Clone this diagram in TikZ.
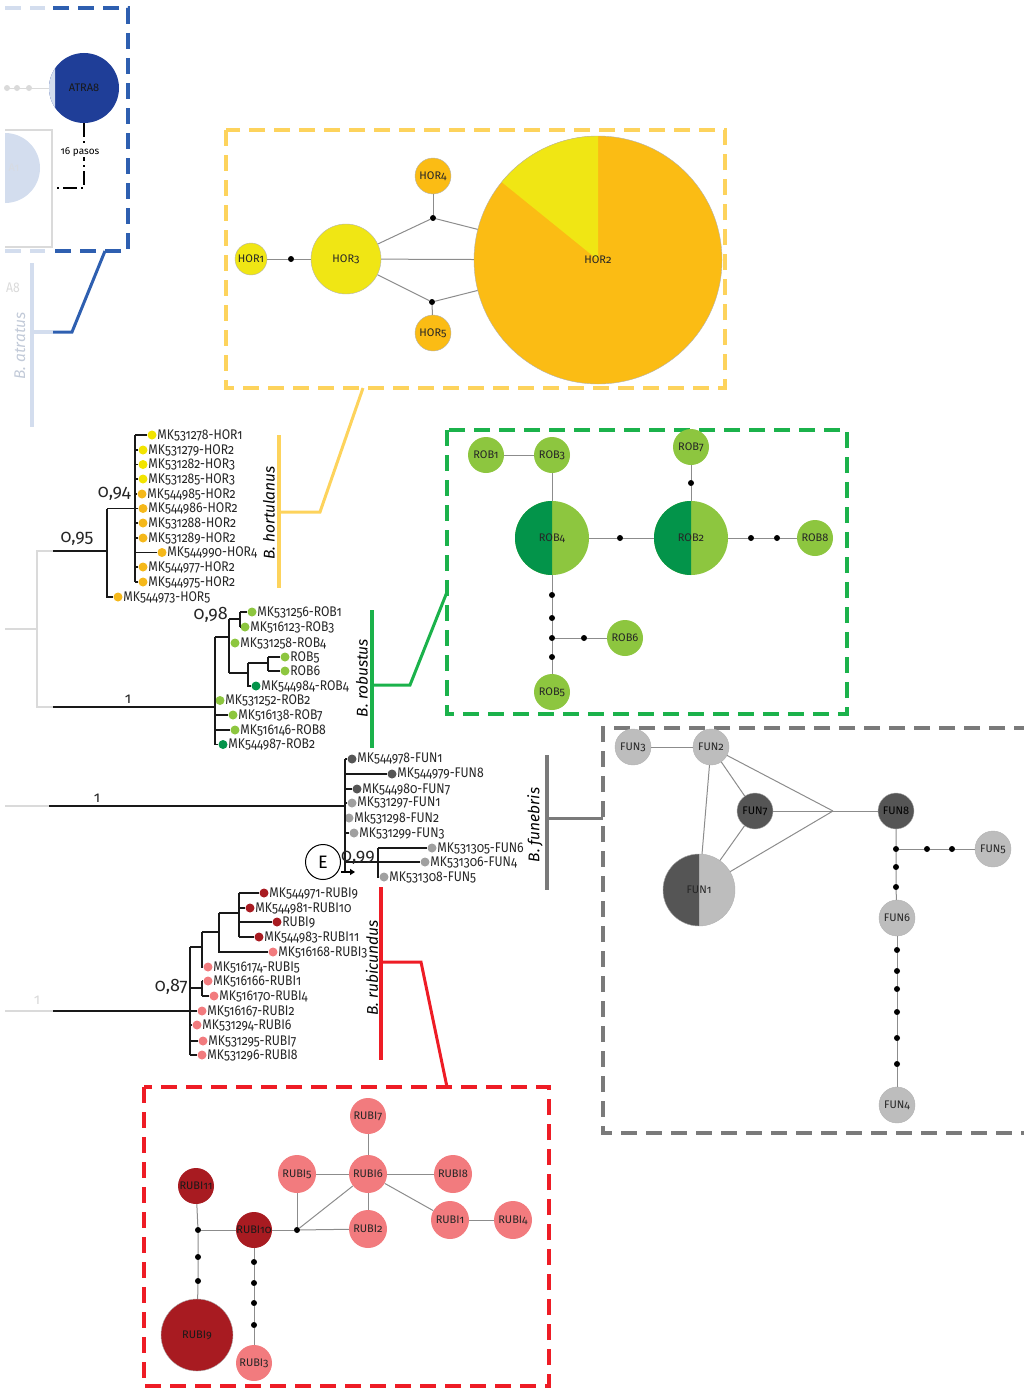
\documentclass[tikz,border=0pt]{standalone}
\usepackage{fontspec}
\setmainfont{Fira Sans}[Numbers=OldStyle]
\newfontfamily\tipfam{Fira Sans}[Numbers=OldStyle, FakeStretch=0.87]
\usetikzlibrary{arrows.meta}
\definecolor{hoYel}{HTML}{F0E614}
\definecolor{hoOra}{HTML}{FBBC14}
\definecolor{hoBox}{HTML}{FDD35C}
\definecolor{tYel}{HTML}{F2E400}
\definecolor{tOra}{HTML}{F5B81A}
\definecolor{gBox}{HTML}{1BB24B}
\definecolor{rLt}{HTML}{8DC63F}
\definecolor{rDk}{HTML}{03944A}
\definecolor{fBox}{HTML}{7A7A7A}
\definecolor{fDk}{HTML}{555555}
\definecolor{fLt}{HTML}{BDBDBD}
\definecolor{tfLt}{HTML}{A0A0A0}
\definecolor{rdBox}{HTML}{EE1C25}
\definecolor{ruDk}{HTML}{A81B21}
\definecolor{ruLt}{HTML}{F27B7E}
\definecolor{bBox}{HTML}{2E5FB0}
\definecolor{atr}{HTML}{1F3E98}
\definecolor{fadeB}{HTML}{D3DDEE}
\definecolor{fadeG}{HTML}{DADADA}
\definecolor{edgeC}{HTML}{8C8C8C}
\newcommand\fTip{\tipfam\fontsize{14}{14}\selectfont}
\newcommand\fSup{\fontsize{18}{18}\selectfont}
\newcommand\fHap{\fontsize{11}{11}\selectfont}
\newcommand\fHapS{\fontsize{10}{10}\selectfont}
\newcommand\fSpec{\fontsize{15.5}{15.5}\selectfont\itshape}
\newcommand\tipdot[5]{%
  \node[tdot, fill=#4] (#1) at (#2,#3) {};
  \node[tlab] (#1l) at ([xshift=-0.5pt]#1.east) {#5};}
\begin{document}
\begin{tikzpicture}[x=1pt,y=-1pt,
  tdot/.style={circle, inner sep=0pt, minimum size=9pt},
  tlab/.style={anchor=west, inner sep=1pt, font=\fTip, text=black!85},
  tbr/.style={line width=1.8pt, black!90},
  fline/.style={line width=1.8pt, fadeG},
  spn/.style={rotate=90, font=\fSpec},
  dbox/.style={dash pattern=on 16pt off 9pt, line width=3.5pt},
  hap/.style={circle, draw=gray!60, line width=0.4pt, inner sep=0pt, minimum size=#1, font=\fHap, text=black!85},
  nline/.style={draw=edgeC, line width=1pt},
  mdot/.style={circle, fill=black, inner sep=0pt, minimum size=6pt},
  supv/.style={font=\fSup, text=black!85, inner sep=0pt},
  cbar/.style={line width=3.5pt}
]
\useasboundingbox (0,0) rectangle (1024,1389);

% ---------------- top-left (B. atratus, faded) ----------------
\draw[dbox, fadeB] (5,8) -- (45,8);
\draw[dbox, fadeB] (5,251) -- (45,251);
\draw[dbox, bBox] (53,8) -- (128,8) -- (128,251) -- (53,251);
\draw[fadeG, line width=1.5pt] (5,130) -- (52,130) -- (52,247) -- (5,247);
\begin{scope}
  \clip (5,120) rectangle (60,220);
  \fill[fadeB] (5,168) circle[radius=35pt];
\end{scope}
\node[font=\fHap, text=fadeG!60!fadeB] (a1) at (14,168) {A1};
\draw[fadeG, line width=1pt] (5,88) -- (50,88);
\foreach \xx in {7,17,29} \fill[fadeG] (\xx,88) circle[radius=3pt];
\fill[atr] (84,88) circle[radius=35pt];
\begin{scope}
  \clip (40,40) rectangle (55,140);
  \fill[fadeB] (84,88) circle[radius=35pt];
\end{scope}
\node[hap=70pt, draw=none, font=\fHap, text=black!90] (atra8) at (84,88) {ATRA8};
\coordinate (pasoA) at (84,188);
\coordinate (pasoB) at (53,188);
\draw[line width=1.6pt, black, dash pattern=on 14pt off 4pt on 2pt off 4pt] (atra8) -- (pasoA) -- (pasoB);
\node[font=\fontsize{10}{10}\selectfont, fill=white, inner sep=1pt] (pasos) at (80,152) {16 pasos};
\node[font=\fTip, text=fadeG] (a8) at (13,288) {A8};
\draw[cbar, fadeB] (32,263) -- (32,427);
\node[spn, text=fadeB!80!gray] (atratus) at (20,346) {B. atratus};
\coordinate (blA) at (105,251);
\coordinate (blB) at (72,332);
\coordinate (blC) at (53,332);
\coordinate (blD) at (32,332);
\draw[cbar, fadeB] (blC) -- (blD);
\draw[line width=3pt, bBox] (blA) -- (blB) -- (blC);

% ---------------- HOR network ----------------
\draw[dbox, hoBox] (226,130) rectangle (725,388);
\fill[hoOra] (598,260) circle[radius=124pt];
\begin{scope}
  \clip (598,260) -- (598,120) -- (420,116) -- cycle;
  \fill[hoYel] (598,260) circle[radius=124pt];
\end{scope}
\node[hap=248pt] (hor2) at (598,260) {HOR2};
\node[hap=32pt, fill=hoYel] (hor1) at (251,259) {HOR1};
\node[mdot] (hd0) at (291,259) {};
\node[hap=70pt, fill=hoYel] (hor3) at (346,259) {HOR3};
\node[hap=36pt, fill=hoOra] (hor4) at (433,176) {HOR4};
\node[mdot] (hd1) at (433,218) {};
\node[hap=36pt, fill=hoOra] (hor5) at (433,333) {HOR5};
\node[mdot] (hd2) at (432,302) {};
\draw[nline] (hor1) -- (hd0) -- (hor3);
\draw[nline] (hor3) -- (hd1) -- (hor2);
\draw[nline] (hor4) -- (hd1);
\draw[nline] (hor3) -- (hor2);
\draw[nline] (hor3) -- (hd2) -- (hor2);
\draw[nline] (hor5) -- (hd2);

% connector hortulanus
\draw[cbar, hoBox] (279,435) -- (279,588);
\coordinate (hoA) at (279,512);
\coordinate (hoB) at (320,512);
\coordinate (hoC) at (363,388);
\draw[line width=3pt, hoBox] (hoA) -- (hoB) -- (hoC);
\node[spn] (hortulanus) at (269,513) {B. hortulanus};

% ---------------- tree: hortulanus ----------------
\tipdot{h1}{152}{435}{tYel}{MK531278-HOR1}
\tipdot{h2}{143}{450}{tYel}{MK531279-HOR2}
\tipdot{h3}{143}{464.5}{tYel}{MK531282-HOR3}
\tipdot{h4}{143}{479}{tYel}{MK531285-HOR3}
\tipdot{h5}{142}{494}{tOra}{MK544985-HOR2}
\tipdot{h6}{143}{508.5}{tOra}{MK544986-HOR2}
\tipdot{h7}{143}{523}{tOra}{MK531288-HOR2}
\tipdot{h8}{143}{538}{tOra}{MK531289-HOR2}
\tipdot{h9}{162}{552.5}{tOra}{MK544990-HOR4}
\tipdot{h10}{143}{567}{tOra}{MK544977-HOR2}
\tipdot{h11}{143}{582}{tOra}{MK544975-HOR2}
\tipdot{h12}{118}{597}{tOra}{MK544973-HOR5}
\draw[tbr] (135,435) -- (135,582);
\foreach \n/\yy in {h1/435,h2/450,h3/464.5,h4/479,h5/494,h6/508.5,h7/523,h8/538,h9/552.5,h10/567,h11/582}
  \draw[tbr] (135,\yy) -- (\n);
\draw[tbr] (107,508.5) -- (135,508.5);
\draw[tbr] (107,508.5) -- (107,597) -- (h12);
\draw[tbr] (53,551) -- (107,551);
\node[supv, anchor=south east] (s094) at (131,501) {0,94};
\node[supv, anchor=south] (s095) at (77,546) {0,95};
% faded root
\draw[fline] (53,551) -- (37,551) -- (37,707) -- (53,707);
\draw[fline] (5,629) -- (37,629);

% ---------------- tree: robustus ----------------
\tipdot{r1}{252}{612}{rLt}{MK531256-ROB1}
\tipdot{r2}{245}{627}{rLt}{MK516123-ROB3}
\tipdot{r3}{235}{643}{rLt}{MK531258-ROB4}
\tipdot{r4}{285}{657}{rLt}{ROB5}
\tipdot{r5}{285}{671}{rLt}{ROB6}
\tipdot{r6}{256}{686}{rDk}{MK544984-ROB4}
\tipdot{r7}{220}{700.5}{rLt}{MK531252-ROB2}
\tipdot{r8}{233}{715}{rLt}{MK516138-ROB7}
\tipdot{r9}{235}{730}{rLt}{MK516146-ROB8}
\tipdot{r10}{223}{744.5}{rDk}{MK544987-ROB2}
\draw[tbr] (53,707) -- (215,707);
\draw[tbr] (215,637) -- (215,744.5);
\draw[tbr] (215,637) -- (229,637);
\draw[tbr] (229,619) -- (229,673);
\draw[tbr] (229,619) -- (240,619);
\draw[tbr] (240,612) -- (240,627);
\draw[tbr] (240,612) -- (r1);
\draw[tbr] (240,627) -- (r2);
\draw[tbr] (229,643) -- (r3);
\draw[tbr] (229,673) -- (248,673);
\draw[tbr] (248,663) -- (248,686) -- (r6);
\draw[tbr] (248,663) -- (268,663);
\draw[tbr] (268,657) -- (268,671);
\draw[tbr] (268,657) -- (r4);
\draw[tbr] (268,671) -- (r5);
\foreach \n/\yy in {r7/700.5,r8/715,r9/730,r10/744.5}
  \draw[tbr] (215,\yy) -- (\n);
\node[supv, anchor=south east] (s098) at (228,623) {0,98};
\node[supv, font=\fontsize{15}{15}\selectfont, anchor=south] (s1a) at (128,704) {1};

% connector robustus
\draw[cbar, gBox] (372,610) -- (372,748);
\coordinate (roA) at (372,685);
\coordinate (roB) at (410,685);
\coordinate (roC) at (447,592);
\draw[line width=3pt, gBox] (roA) -- (roB) -- (roC);
\node[spn] (robustus) at (362,678) {B. robustus};

% ---------------- ROB network ----------------
\draw[dbox, gBox] (447,430) rectangle (847,714);
\fill[rLt] (552,538) circle[radius=37pt];
\fill[rLt] (691,538) circle[radius=37pt];
\begin{scope}
  \clip (500,490) rectangle (552,590);
  \fill[rDk] (552,538) circle[radius=37pt];
\end{scope}
\begin{scope}
  \clip (640,490) rectangle (691,590);
  \fill[rDk] (691,538) circle[radius=37pt];
\end{scope}
\node[hap=74pt, draw=none] (rob4) at (552,538) {ROB4};
\node[hap=74pt, draw=none] (rob2) at (691,538) {ROB2};
\node[hap=36pt, fill=rLt, draw=none] (rob1) at (486,455) {ROB1};
\node[hap=36pt, fill=rLt, draw=none] (rob3) at (552,455) {ROB3};
\node[hap=36pt, fill=rLt, draw=none] (rob7) at (691,447) {ROB7};
\node[hap=36pt, fill=rLt, draw=none] (rob8) at (815,538) {ROB8};
\node[hap=36pt, fill=rLt, draw=none] (rob6) at (625,638) {ROB6};
\node[hap=36pt, fill=rLt, draw=none] (rob5) at (552,692) {ROB5};
\node[mdot] (rd1) at (620,538) {};
\node[mdot] (rd2) at (751,538) {};
\node[mdot] (rd3) at (777,538) {};
\node[mdot] (rd4) at (691,483) {};
\node[mdot] (rd5) at (552,595) {};
\node[mdot] (rd6) at (552,618) {};
\node[mdot] (rd7) at (552,638) {};
\node[mdot] (rd8) at (552,657) {};
\node[mdot] (rd9) at (584,638) {};
\draw[nline] (rob1) -- (rob3);
\draw[nline] (rob3) -- (rob4);
\draw[nline] (rob4) -- (rd1) -- (rob2);
\draw[nline] (rob2) -- (rd2) -- (rd3) -- (rob8);
\draw[nline] (rob7) -- (rd4) -- (rob2);
\draw[nline] (rob4) -- (rd5) -- (rd6) -- (rd7) -- (rd8) -- (rob5);
\draw[nline] (rd7) -- (rd9) -- (rob6);

% ---------------- tree: funebris ----------------
\tipdot{f1}{352}{759}{fDk}{MK544978-FUN1}
\tipdot{f2}{392}{774}{fDk}{MK544979-FUN8}
\tipdot{f3}{357}{789}{fDk}{MK544980-FUN7}
\tipdot{f4}{352}{803}{tfLt}{MK531297-FUN1}
\tipdot{f5}{349}{818}{tfLt}{Mk531298-FUN2}
\tipdot{f6}{354}{833}{tfLt}{MK531299-FUN3}
\tipdot{f7}{432}{848}{tfLt}{MK531305-FUN6}
\tipdot{f8}{425}{862}{tfLt}{MK531306-FUN4}
\tipdot{f9}{384}{877}{tfLt}{MK531308-FUN5}
\draw[fline] (5,806) -- (49,806);
\draw[tbr] (49,806) -- (345,806);
\draw[tbr] (345,759) -- (345,872);
\foreach \n/\yy in {f1/759,f2/774,f3/789,f4/803,f5/818,f6/833}
  \draw[tbr] (345,\yy) -- (\n);
\draw[tbr] (345,862) -- (f8);
\draw[tbr] (378,848) -- (378,877) -- (f9);
\draw[tbr] (378,848) -- (f7);
\node[supv, font=\fontsize{15}{15}\selectfont, anchor=south] (s1b) at (97,803) {1};
\node[supv, anchor=south west] (s099) at (341,865) {0,99};
\node[circle, draw=black, line width=1pt, fill=white, minimum size=35pt, inner sep=0pt, font=\fSup] (Ecirc) at (323,862) {E};
\coordinate (arA) at (341,872);
\coordinate (arB) at (355,872);
\draw[line width=1.8pt, -{Triangle[length=5pt,width=6pt]}] (arA) -- (arB);

% connector funebris
\draw[cbar, fBox] (547,755) -- (547,890);
\coordinate (fuA) at (547,818);
\coordinate (fuB) at (603,818);
\draw[line width=3pt, fBox] (fuA) -- (fuB);
\node[spn] (funebris) at (535,825) {B. funebris};

% ---------------- FUN network ----------------
\draw[dbox, fBox] (1030,728) -- (603,728) -- (603,1133) -- (1030,1133);
\fill[fLt] (699,890) circle[radius=36pt];
\begin{scope}
  \clip (650,840) rectangle (699,940);
  \fill[fDk] (699,890) circle[radius=36pt];
\end{scope}
\node[hap=72pt] (fun1) at (699,890) {FUN1};
\node[hap=36pt, fill=fLt] (fun3) at (633,747) {FUN3};
\node[hap=36pt, fill=fLt] (fun2) at (711,747) {FUN2};
\node[hap=36pt, fill=fDk, text=black] (fun7) at (755,811) {FUN7};
\node[hap=36pt, fill=fDk, text=black] (fun8) at (896,811) {FUN8};
\node[hap=36pt, fill=fLt] (fun5) at (993,849) {FUN5};
\node[hap=36pt, fill=fLt] (fun6) at (897,918) {FUN6};
\node[hap=36pt, fill=fLt] (fun4) at (897,1105) {FUN4};
\coordinate (fj) at (833,811);
\node[mdot] (fd1) at (896,849) {};
\node[mdot] (fd2) at (896,867) {};
\node[mdot] (fd3) at (896,887) {};
\node[mdot] (fd4) at (927,849) {};
\node[mdot] (fd5) at (952,849) {};
\node[mdot] (fd6) at (897,950) {};
\node[mdot] (fd7) at (897,971) {};
\node[mdot] (fd8) at (897,989) {};
\node[mdot] (fd9) at (897,1012) {};
\node[mdot] (fd10) at (897,1038) {};
\node[mdot] (fd11) at (897,1064) {};
\draw[nline] (fun3) -- (fun2);
\draw[nline] (fun2) -- (fun1);
\draw[nline] (fun2) -- (fun7);
\draw[nline] (fun2) -- (fj);
\draw[nline] (fun7) -- (fj);
\draw[nline] (fun1) -- (fj);
\draw[nline] (fun7) -- (fun1);
\draw[nline] (fj) -- (fun8);
\draw[nline] (fun8) -- (fd1) -- (fd2) -- (fd3) -- (fun6);
\draw[nline] (fd1) -- (fd4) -- (fd5) -- (fun5);
\draw[nline] (fun6) -- (fd6) -- (fd7) -- (fd8) -- (fd9) -- (fd10) -- (fd11) -- (fun4);

% ---------------- tree: rubicundus ----------------
\tipdot{u1}{264}{893}{ruDk}{MK544971-RUBI9}
\tipdot{u2}{250}{908}{ruDk}{MK544981-RUBI10}
\tipdot{u3}{277}{922}{ruDk}{RUBI9}
\tipdot{u4}{259}{937}{ruDk}{MK544983-RUBI11}
\tipdot{u5}{273}{952}{ruLt}{MK516168-RUBI3}
\tipdot{u6}{208}{967}{ruLt}{MK516174-RUBI5}
\tipdot{u7}{208}{981}{ruLt}{MK516166-RUBI1}
\tipdot{u8}{214}{996}{ruLt}{MK516170-RUBI4}
\tipdot{u9}{202}{1011}{ruLt}{MK516167-RUBI2}
\tipdot{u10}{197}{1025}{ruLt}{MK531294-RUBI6}
\tipdot{u11}{203}{1041}{ruLt}{MK531295-RUBI7}
\tipdot{u12}{202}{1055}{ruLt}{MK531296-RUBI8}
\draw[fline] (5,1011) -- (53,1011);
\draw[tbr] (53,1011) -- (190,1011);
\draw[tbr] (190,947) -- (190,1055);
\draw[tbr] (190,947) -- (202,947);
\draw[tbr] (202,932) -- (202,967) -- (u6);
\draw[tbr] (202,932) -- (219,932);
\draw[tbr] (219,913) -- (219,952) -- (u5);
\draw[tbr] (219,913) -- (239,913);
\draw[tbr] (239,893) -- (239,937);
\foreach \n/\yy in {u1/893,u2/908,u3/922,u4/937}
  \draw[tbr] (239,\yy) -- (\n);
\draw[tbr] (190,988) -- (202,988);
\draw[tbr] (202,981) -- (202,996);
\draw[tbr] (202,981) -- (u7);
\draw[tbr] (202,996) -- (u8);
\foreach \n/\yy in {u9/1011,u10/1025,u11/1041,u12/1055}
  \draw[tbr] (190,\yy) -- (\n);
\node[supv, anchor=east] (s087) at (188,987) {0,87};
\node[font=\fontsize{15}{15}\selectfont, text=fadeG, anchor=south] (s1c) at (37,1008) {1};

% connector rubicundus
\draw[cbar, rdBox] (381,887) -- (381,1060);
\coordinate (ruA) at (381,962);
\coordinate (ruB) at (421,962);
\coordinate (ruC) at (447,1087);
\draw[line width=3pt, rdBox] (ruA) -- (ruB) -- (ruC);
\node[spn] (rubicundus) at (372,968) {B. rubicundus};

% ---------------- RUBI network ----------------
\draw[dbox, rdBox] (144,1087) rectangle (549,1386);
\begin{scope}[every node/.append style={font=\fHapS}]
\node[hap=36pt, fill=ruLt, draw=none] (ru7) at (368,1116) {RUBI7};
\node[hap=38pt, fill=ruLt, draw=none] (ru6) at (368,1174) {RUBI6};
\node[hap=38pt, fill=ruLt, draw=none] (ru5) at (297,1174) {RUBI5};
\node[hap=38pt, fill=ruLt, draw=none] (ru8) at (453,1174) {RUBI8};
\node[hap=38pt, fill=ruLt, draw=none] (ru2) at (368,1229) {RUBI2};
\node[hap=38pt, fill=ruLt, draw=none] (ru1) at (450,1220) {RUBI1};
\node[hap=38pt, fill=ruLt, draw=none] (ru4) at (513,1220) {RUBI4};
\node[hap=36pt, fill=ruDk, draw=none, text=black!90] (ru11) at (196,1186) {RUBI11};
\node[hap=36pt, fill=ruDk, draw=none, text=black!90] (ru10) at (254,1230) {RUBI10};
\node[hap=36pt, fill=ruLt, draw=none] (ru3) at (254,1363) {RUBI3};
\end{scope}
\node[hap=72pt, fill=ruDk, draw=gray!60, text=black!90] (ru9) at (197,1335) {RUBI9};
\node[mdot] (ud0) at (297,1230) {};
\node[mdot] (ud1) at (198,1230) {};
\node[mdot] (ud2) at (198,1257) {};
\node[mdot] (ud3) at (198,1281) {};
\node[mdot] (ud4) at (254,1262) {};
\node[mdot] (ud5) at (254,1283) {};
\node[mdot] (ud6) at (254,1303) {};
\node[mdot] (ud7) at (254,1325) {};
\draw[nline] (ru6) -- (ru7);
\draw[nline] (ru6) -- (ru5);
\draw[nline] (ru6) -- (ru8);
\draw[nline] (ru6) -- (ru2);
\draw[nline] (ru6) -- (ru1);
\draw[nline] (ru1) -- (ru4);
\draw[nline] (ud0) -- (ru10);
\draw[nline] (ud0) -- (ru2);
\draw[nline] (ud0) -- (ru5);
\draw[nline] (ud0) -- (ru6);
\draw[nline] (ud1) -- (ru11);
\draw[nline] (ud1) -- (ru10);
\draw[nline] (ud1) -- (ud2) -- (ud3) -- (ru9);
\draw[nline] (ru10) -- (ud4) -- (ud5) -- (ud6) -- (ud7) -- (ru3);
\end{tikzpicture}
\end{document}
